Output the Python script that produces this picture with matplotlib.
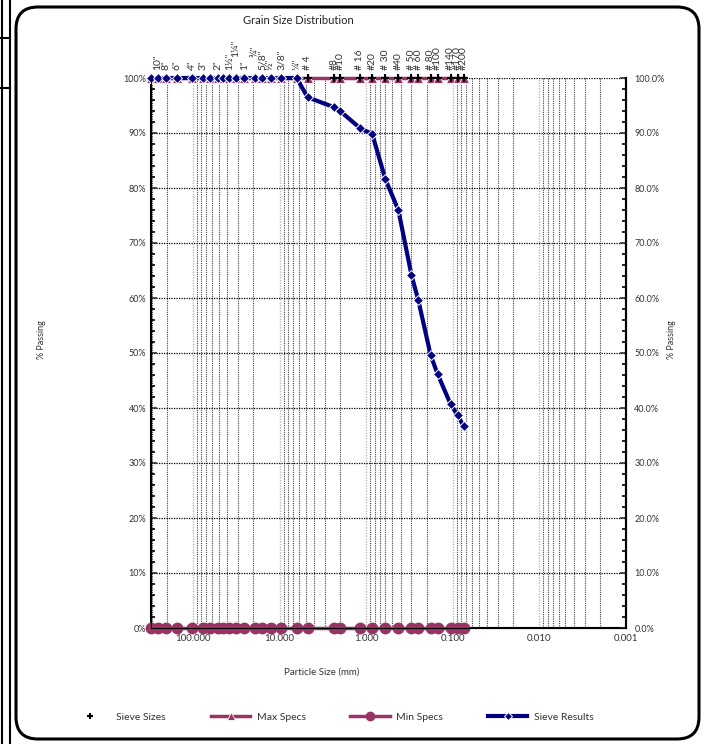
import matplotlib
matplotlib.use('Agg')
import matplotlib.pyplot as plt
from matplotlib.patches import FancyBboxPatch
from matplotlib.lines import Line2D
from matplotlib.ticker import MultipleLocator, FuncFormatter, LogLocator, NullFormatter

plt.rcParams['font.family'] = ['Lato', 'DejaVu Sans']

# ---- data ----
sieve_mm = [304.8, 254.0, 203.2, 152.4, 101.6, 76.2, 63.5, 50.8, 44.45, 38.1, 31.75,
            25.4, 19.05, 15.875, 12.7, 9.525, 6.35, 4.75, 2.36, 2.0, 1.18, 0.85,
            0.6, 0.425, 0.3, 0.25, 0.18, 0.15, 0.106, 0.088, 0.075]
sieve_labels = ['', '10"', '8"', '6"', '4"', '3"', '', '2"', '', '1½"', '1¼"',
                '1"', '¾"', '5/8"', '½"', '3/8"', '¼"', '# 4', '#8', '#10', '# 16', '#20',
                '# 30', '#40', '# 50', '# 60', '# 80', '#100', '#140', '#170', '#200']
label_raise = [0, 0, 0, 0, 0, 0, 0, 0, 0, 0, 9,
               0, 9, 0, 0, 0, 0, 0, 0, 0, 0, 0,
               0, 0, 0, 0, 0, 0, 0, 0, 0]
percent_passing = [100, 100, 100, 100, 100, 100, 100, 100, 100, 100, 100,
                   100, 100, 100, 100, 100, 100, 96.5, 94.7, 94.0, 90.9, 89.8,
                   81.6, 76.0, 64.2, 59.6, 49.6, 46.2, 40.7, 38.7, 36.7]
max_specs = [100, 100, 100, 100, 100, 100, 100, 100, 100, 100, 100,
             100, 100, 100, 100, 100, 100, 100, 100, 100, 100, 100,
             100, 100, 100, 100, 100, 100, 100, 100, 100]
min_specs = [0, 0, 0, 0, 0, 0, 0, 0, 0, 0, 0,
             0, 0, 0, 0, 0, 0, 0, 0, 0, 0, 0,
             0, 0, 0, 0, 0, 0, 0, 0, 0]
sieve_marks = max_specs
x_major = [100, 10, 1, 0.1, 0.01, 0.001]
x_major_labels = ['100.000', '10.000', '1.000', '0.100', '0.010', '0.001']

W, H = 705, 744
fig = plt.figure(figsize=(W / 100, H / 100), dpi=100)
ax = fig.add_axes([151 / W, (H - 628) / H, (626 - 151) / W, (628 - 78) / H])

plum = '#993366'
navy = '#000080'
txt = '#333333'

l_min, = ax.plot(sieve_mm, min_specs, color=plum, lw=2.5, marker='o', ms=7.5,
                 mec=plum, mfc=plum, clip_on=False, zorder=3, label='Min Specs')
l_max, = ax.plot(sieve_mm, max_specs, color=plum, lw=2.5, marker='^', ms=7.5,
                 mec='white', mew=0.6, mfc=plum, clip_on=False, zorder=3, label='Max Specs')
l_siv, = ax.plot(sieve_mm, sieve_marks, ls='none', marker='+', ms=6, mew=1.5,
                 color='black', clip_on=False, zorder=4, label='Sieve Sizes')
l_res, = ax.plot(sieve_mm, percent_passing, color=navy, lw=3, marker='D', ms=5.5,
                 mec='white', mew=0.7, mfc=navy, clip_on=False, zorder=5, label='Sieve Results')

ax.set_xscale('log')
ax.set_xlim(304.8, 0.001)
ax.set_ylim(0, 100)

ax.set_xticks(x_major)
ax.set_xticklabels(x_major_labels)
ax.xaxis.set_minor_locator(LogLocator(base=10, subs=[2, 3, 4, 5, 6, 7, 8, 9], numticks=20))
ax.xaxis.set_minor_formatter(NullFormatter())
ax.tick_params(axis='x', which='both', length=0, labelsize=7, pad=4, colors=txt)

ax.yaxis.set_major_locator(MultipleLocator(10))
ax.yaxis.set_minor_locator(MultipleLocator(2))
ax.yaxis.set_major_formatter(FuncFormatter(lambda v, p: f'{v:.0f}%'))
ax.tick_params(axis='y', which='major', direction='in', length=4, width=1.2, labelsize=6.5, colors=txt)
ax.tick_params(axis='y', which='minor', direction='in', length=3, width=1.2)

ax.grid(True, which='major', axis='x', color='#b8b8b8', ls=(0, (1, 1)), lw=1.0)
ax.grid(True, which='minor', axis='x', color='#444444', ls=(0, (1, 1)), lw=0.8)
ax.grid(True, which='major', axis='y', color='black', ls=(0, (1, 1)), lw=0.9)
ax.set_axisbelow(True)

for s in ['left', 'right', 'bottom']:
    ax.spines[s].set_linewidth(1.5)
ax.spines['top'].set_visible(False)

ax2 = ax.twinx()
ax2.set_ylim(0, 100)
ax2.yaxis.set_major_locator(MultipleLocator(10))
ax2.yaxis.set_minor_locator(MultipleLocator(2))
ax2.yaxis.set_major_formatter(FuncFormatter(lambda v, p: f'{v:.1f}%'))
ax2.tick_params(axis='y', which='major', direction='in', length=4, width=1.2, labelsize=6.5, colors=txt, pad=6)
ax2.tick_params(axis='y', which='minor', direction='in', length=3, width=1.2)
ax2.spines['top'].set_visible(False)
ax2.spines['right'].set_linewidth(1.5)

# top sieve labels
for xv, lab, r in zip(sieve_mm, sieve_labels, label_raise):
    if lab:
        ax.annotate(lab, xy=(xv, 100), xytext=(0, 6 + r), textcoords='offset points',
                    rotation=90, ha='center', va='bottom', fontsize=7.5, color=txt,
                    annotation_clip=False)

fig.text(298 / W, 1 - 20 / H, 'Grain Size Distribution', ha='center', va='center', fontsize=8, color='#222222')
fig.text(42 / W, 1 - 340 / H, '% Passing', rotation=90, ha='center', va='center', fontsize=6.5, color=txt)
fig.text(672 / W, 1 - 340 / H, '% Passing', rotation=90, ha='center', va='center', fontsize=6.5, color=txt)
fig.text(322 / W, 1 - 672 / H, 'Particle Size (mm)', ha='center', va='center', fontsize=7, color=txt)

leg = fig.legend(handles=[l_siv, l_max, l_min, l_res], loc='center', ncol=4,
                 bbox_to_anchor=(332 / W, 1 - 717 / H), frameon=False, fontsize=7.5,
                 handlelength=3.8, columnspacing=4.3, handletextpad=0.6, markerscale=0.8)
for t in leg.get_texts():
    t.set_color(txt)

# outer rounded frame
frame = FancyBboxPatch((0.16, 0.05), 6.83, 7.32, boxstyle='round,pad=0,rounding_size=0.22',
                       transform=fig.dpi_scale_trans, fill=False, lw=2.2, ec='black')
fig.patches.append(frame)
# page edge lines at left
for xp in [1.5, 9.5]:
    fig.add_artist(Line2D([xp / W, xp / W], [0, 1], color='black', lw=1.5))
for yp in [38, 88]:
    fig.add_artist(Line2D([0, 9.5 / W], [1 - yp / H, 1 - yp / H], color='black', lw=1.5))

fig.savefig('out.png', dpi=100)
